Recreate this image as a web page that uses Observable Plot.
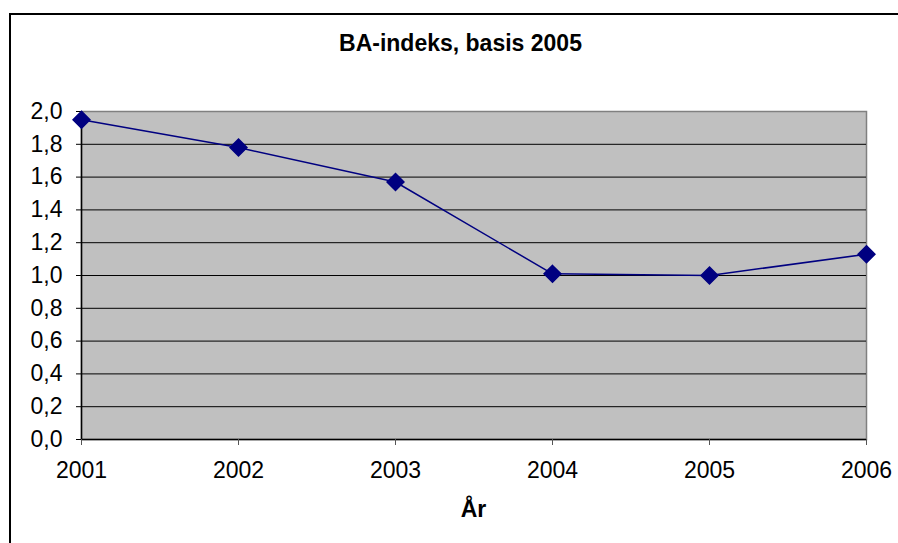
<!DOCTYPE html>
<html>
<head>
<meta charset="utf-8">
<script src="https://cdn.jsdelivr.net/npm/d3@7"></script>
<script src="https://cdn.jsdelivr.net/npm/@observablehq/plot@0.6"></script>
<style>
  html, body { margin: 0; padding: 0; background: #fff; overflow: hidden; }
  #wrap { position: relative; width: 898px; height: 543px; overflow: hidden; font-family: "Liberation Sans", Arial, sans-serif; }
  #border { position: absolute; left: 9px; top: 13px; width: 960px; height: 700px; border: 2px solid #000; box-sizing: border-box; }
  #title { position: absolute; left: 0; width: 921px; top: 30px; text-align: center; font-weight: bold; font-size: 23px; line-height: 26px; color: #000; }
  #xlabel { position: absolute; left: 0; width: 947px; top: 496px; text-align: center; font-weight: bold; font-size: 23px; line-height: 26px; color: #000; }
  #chart { position: absolute; left: 0; top: 0; }
</style>
</head>
<body>
<div id="wrap">
  <div id="border"></div>
  <div id="title">BA-indeks, basis 2005</div>
  <div id="chart"></div>
  <div id="xlabel">År</div>
</div>
<script>
const years = ["2001", "2002", "2003", "2004", "2005", "2006"];
const values = [1.95, 1.78, 1.57, 1.01, 1.00, 1.13];
const yTicks = [0, 0.2, 0.4, 0.6, 0.8, 1.0, 1.2, 1.4, 1.6, 1.8, 2.0];

const data = years.map((y, i) => ({year: y, value: values[i]}));
const fmt = d => d.toFixed(1).replace(".", ",");

const chart = Plot.plot({
  width: 898,
  height: 543,
  marginLeft: 81,
  marginRight: 32,
  marginTop: 111,
  marginBottom: 104,
  style: {fontFamily: "Liberation Sans, Arial, sans-serif", fontSize: "23px", color: "#000", background: "transparent", overflow: "visible"},
  x: {type: "point", domain: years, padding: 0},
  y: {domain: [0, 2], ticks: yTicks},
  marks: [
    Plot.frame({fill: "#c0c0c0", stroke: "#808080", strokeWidth: 1.5}),
    Plot.ruleY(yTicks.filter(d => d > 0 && d < 2), {stroke: "#000", strokeWidth: 1}),
    Plot.ruleY([0], {stroke: "#000", strokeWidth: 1.5}),
    Plot.ruleX([years[0]], {stroke: "#000", strokeWidth: 1.5}),
    Plot.axisY({ticks: yTicks, tickSize: 5, tickPadding: 14, tickFormat: fmt, label: null, stroke: "#000", fontSize: 23}),
    Plot.axisX({tickSize: 6, tickPadding: 16, label: null, stroke: "#555", fontSize: 23}),
    Plot.line(data, {x: "year", y: "value", stroke: "#000080", strokeWidth: 1.5}),
    Plot.dot(data, {x: "year", y: "value", symbol: "diamond2", r: 7.6, fill: "#000080", stroke: "#000080"})
  ]
});
document.getElementById("chart").appendChild(chart);
</script>
</body>
</html>
